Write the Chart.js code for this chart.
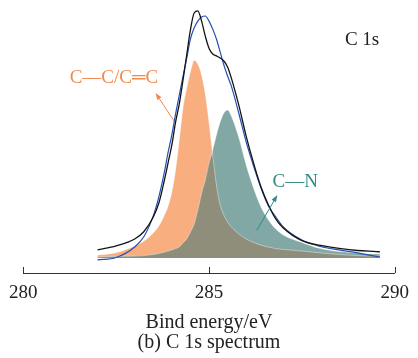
<!DOCTYPE html>
<html><head><meta charset="utf-8">
<script src="https://cdn.jsdelivr.net/npm/chart.js@4/dist/chart.umd.min.js"></script>
<style>html,body{margin:0;padding:0;background:#fff;overflow:hidden;}</style>
</head><body>
<canvas id="c" width="418" height="358"></canvas>
<script>
// Binding energy (eV) sample positions
const energies = [282.0, 282.5, 283.0, 283.25, 283.5, 283.65, 283.8, 283.9, 284.0, 284.1, 284.2, 284.3, 284.4, 284.5, 284.6, 284.7, 284.8, 284.9, 285.0, 285.1, 285.2, 285.3, 285.4, 285.5, 285.6, 285.8, 286.0, 286.2, 286.4, 286.6, 286.8, 287.0, 287.5, 288.0, 288.5, 289.0, 289.5, 289.6];
// Intensity (a.u.)
const envelope = [8.6, 10.1, 12.7, 15.5, 20.9, 26.1, 34.7, 41.2, 47.8, 56.3, 63.1, 72.0, 81.3, 90.7, 97.0, 97.8, 94.0, 88.4, 83.9, 81.7, 81.0, 80.2, 79.1, 76.9, 72.8, 62.7, 51.1, 41.0, 32.1, 25.4, 20.1, 16.8, 12.1, 10.3, 9.2, 8.4, 8.0, 7.9];
const measured = [4.9, 5.8, 9.7, 13.6, 21.3, 28.4, 37.7, 45.1, 51.5, 59.3, 66.4, 73.3, 80.2, 87.3, 91.4, 94.0, 95.5, 95.9, 94.0, 91.0, 87.3, 82.5, 77.6, 73.5, 69.8, 59.7, 48.9, 39.9, 31.7, 25.0, 20.9, 17.2, 12.3, 9.9, 8.6, 7.5, 6.2, 6.0];
const peakCC = [6.7, 7.6, 10.1, 11.9, 14.9, 17.5, 21.6, 25.0, 30.2, 38.4, 49.6, 61.6, 69.0, 75.0, 79.4, 78.0, 73.9, 66.8, 56.3, 44.0, 32.8, 25.4, 21.6, 19.0, 17.2, 14.6, 12.7, 11.4, 10.4, 9.7, 9.1, 8.8, 8.2, 7.5, 6.9, 6.5, 6.3, 6.3];
const peakCN = [6.0, 6.2, 6.3, 6.5, 6.9, 7.3, 7.8, 8.2, 8.6, 9.1, 9.7, 11.2, 12.7, 15.3, 18.3, 23.5, 29.8, 34.7, 41.0, 45.9, 51.5, 56.3, 59.7, 60.8, 58.6, 50.7, 40.3, 31.7, 24.6, 19.8, 16.4, 14.2, 11.4, 9.1, 8.0, 7.5, 7.1, 7.1];
const baselineLevel = 5.6;
const xTickValues = [280, 285, 290];
const xTitle = ['Bind energy/eV', '(b) C 1s spectrum'];
const labelTexts = ['C 1s', 'C\u2014C/C\u2550C', 'C\u2014N'];

const overlap = peakCC.map((v, i) => Math.min(v, peakCN[i]));
const pts = arr => energies.map((e, i) => ({x: e, y: arr[i]}));

const SERIF = '"Liberation Serif", "DejaVu Serif", serif';

const annotations = [
  {text: labelTexts[0], x: 289.12, y: 86.9, color: '#222222'},
  {text: labelTexts[1], x: 282.44, y: 72.8, color: '#F08A4E', arrow: {from: [284.06, 56.7], to: [283.56, 67.2]}},
  {text: labelTexts[2], x: 287.32, y: 34.1, color: '#2F8C84', arrow: {from: [286.29, 16.0], to: [286.84, 29.1]}}
];

const decor = {
  id: 'decor',
  afterDraw(chart) {
    const ctx = chart.ctx, xs = chart.scales.x, ys = chart.scales.y;
    const bottom = chart.chartArea.bottom;
    ctx.save();
    ctx.strokeStyle = '#333';
    ctx.lineWidth = 1;
    xTickValues.forEach(v => {
      const px = Math.round(xs.getPixelForValue(v)) + 0.5;
      ctx.beginPath();
      ctx.moveTo(px, bottom - 6);
      ctx.lineTo(px, bottom);
      ctx.stroke();
    });
    annotations.forEach(a => {
      ctx.font = '19px ' + SERIF;
      ctx.fillStyle = a.color;
      ctx.textAlign = 'center';
      ctx.textBaseline = 'middle';
      ctx.fillText(a.text, xs.getPixelForValue(a.x), ys.getPixelForValue(a.y));
      if (a.arrow) {
        const x1 = xs.getPixelForValue(a.arrow.from[0]), y1 = ys.getPixelForValue(a.arrow.from[1]);
        const x2 = xs.getPixelForValue(a.arrow.to[0]), y2 = ys.getPixelForValue(a.arrow.to[1]);
        const ang = Math.atan2(y2 - y1, x2 - x1);
        ctx.strokeStyle = a.color;
        ctx.lineWidth = 1;
        ctx.beginPath();
        ctx.moveTo(x1, y1);
        ctx.lineTo(x2 - 5 * Math.cos(ang), y2 - 5 * Math.sin(ang));
        ctx.stroke();
        ctx.beginPath();
        ctx.moveTo(x2, y2);
        ctx.lineTo(x2 - 7 * Math.cos(ang) + 2.5 * Math.sin(ang), y2 - 7 * Math.sin(ang) - 2.5 * Math.cos(ang));
        ctx.lineTo(x2 - 7 * Math.cos(ang) - 2.5 * Math.sin(ang), y2 - 7 * Math.sin(ang) + 2.5 * Math.cos(ang));
        ctx.closePath();
        ctx.fill();
      }
    });
    ctx.restore();
  }
};

const smooth = {cubicInterpolationMode: 'monotone', pointRadius: 0};

new Chart(document.getElementById('c'), {
  type: 'line',
  data: {
    datasets: [
      Object.assign({label: 'fit', data: pts(envelope), borderColor: '#141414', borderWidth: 1.3, fill: false, order: 0}, smooth),
      Object.assign({label: 'measured', data: pts(measured), borderColor: '#2450B4', borderWidth: 1.2, fill: false, order: 1}, smooth),
      Object.assign({label: 'CC edge', data: pts(peakCC), borderColor: 'rgba(255,255,255,0.4)', borderWidth: 1, fill: false, order: 2}, smooth),
      Object.assign({label: 'CN edge', data: pts(peakCN), borderColor: 'rgba(255,255,255,0.4)', borderWidth: 1, fill: false, order: 2}, smooth),
      Object.assign({label: 'overlap', data: pts(overlap), borderWidth: 0, borderColor: 'rgba(0,0,0,0)', backgroundColor: '#8F8E7B', fill: {value: baselineLevel}, order: 3}, smooth),
      Object.assign({label: 'C-N', data: pts(peakCN), borderWidth: 0, borderColor: 'rgba(0,0,0,0)', backgroundColor: '#82A8A6', fill: {value: baselineLevel}, order: 4}, smooth),
      Object.assign({label: 'C-C/C=C', data: pts(peakCC), borderWidth: 0, borderColor: 'rgba(0,0,0,0)', backgroundColor: '#F8AE7E', fill: {value: baselineLevel}, order: 5}, smooth)
    ]
  },
  options: {
    responsive: false,
    animation: false,
    devicePixelRatio: 1,
    layout: {padding: {left: 20.7, right: 19.7, top: 5, bottom: 0}},
    plugins: {legend: {display: false}, tooltip: {enabled: false}},
    scales: {
      x: {
        type: 'linear', min: 280, max: 290,
        afterFit: s => { s.height = 85; },
        ticks: {stepSize: 5, color: '#222', padding: 9, font: {family: SERIF, size: 19}},
        grid: {display: true, drawOnChartArea: false, drawTicks: false},
        border: {display: true, color: '#333', width: 1},
        title: {display: true, text: xTitle, color: '#222', font: {family: SERIF, size: 20, lineHeight: 1.025}, padding: {top: 0, bottom: 4.75}}
      },
      y: {display: false, min: 0, max: 100}
    }
  },
  plugins: [decor]
});
</script>
</body></html>
